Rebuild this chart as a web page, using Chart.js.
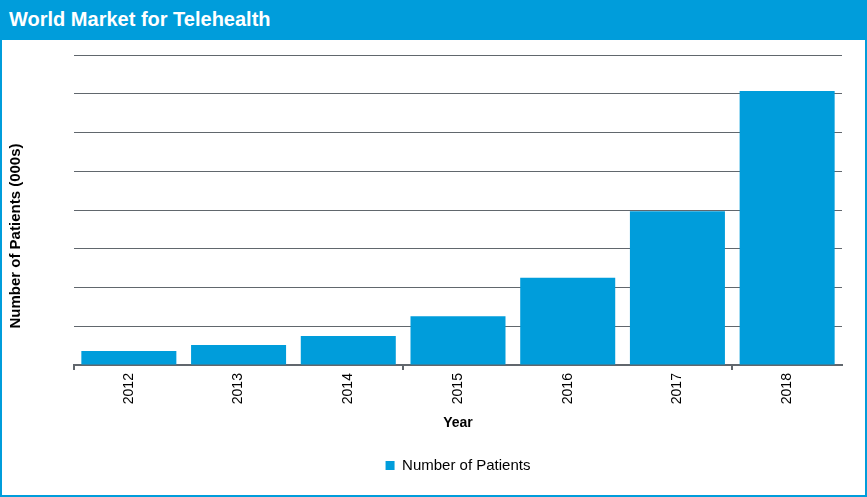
<!DOCTYPE html>
<html>
<head>
<meta charset="utf-8">
<script src="https://cdn.jsdelivr.net/npm/chart.js@4"></script>
<style>
  html, body { margin: 0; padding: 0; background: #fff; }
  #wrap { width: 867px; height: 497px; position: relative; overflow: hidden; }
  #titlebar { position: absolute; left: 0; top: 0; width: 867px; height: 40px; background: #009ddb;
    color: #fff; font: bold 20px "Liberation Sans", Arial, sans-serif; line-height: 39px; padding-left: 9px; box-sizing: border-box; }
  #box { position: absolute; left: 0; top: 40px; width: 867px; height: 457px; border: 2px solid #009ddb; border-top: none; box-sizing: border-box; }
  #cv { position: absolute; left: 2px; top: 40px; }
</style>
</head>
<body>
<div id="wrap">
  <div id="titlebar">World Market for Telehealth</div>
  <div id="box"></div>
  <canvas id="cv" width="863" height="455" style="width:863px;height:455px"></canvas>
</div>
<script>
const categories = ["2012", "2013", "2014", "2015", "2016", "2017", "2018"];
const patients = [36, 52, 75, 126, 225, 397, 707];
const yMax = 800;
const yStep = 100;
const yTitle = 'Number of Patients (000s)';

const barColor = '#009ddb';
const gridColor = '#61676d';
const fam = '"Liberation Sans", Arial, sans-serif';

const yTitlePlugin = {
  id: 'yTitlePlugin',
  afterDraw(chart) {
    const { ctx, chartArea } = chart;
    ctx.save();
    ctx.font = 'bold 15px ' + fam;
    ctx.fillStyle = '#000';
    ctx.textAlign = 'center';
    ctx.textBaseline = 'middle';
    ctx.translate(chartArea.left - 58, (chartArea.top + chartArea.bottom) / 2 + 26);
    ctx.rotate(-Math.PI / 2);
    ctx.fillText(yTitle, 0, 0);
    ctx.restore();
  }
};

new Chart(document.getElementById('cv'), {
  type: 'bar',
  data: {
    labels: categories,
    datasets: [{
      label: 'Number of Patients',
      data: patients,
      backgroundColor: barColor,
      borderWidth: 0,
      barPercentage: 0.866,
      categoryPercentage: 1.0
    }]
  },
  plugins: [yTitlePlugin],
  options: {
    responsive: false,
    animation: false,
    layout: { padding: { left: 72, right: 23, top: 15, bottom: 12 } },
    plugins: {
      tooltip: { enabled: false },
      legend: {
        position: 'bottom',
        labels: {
          boxWidth: 9, boxHeight: 9, padding: 4,
          color: '#000',
          font: { family: fam, size: 15 }
        }
      }
    },
    scales: {
      x: {
        grid: {
          offset: true,
          drawOnChartArea: false,
          drawTicks: true,
          tickLength: 5,
          lineWidth: 2,
          color: (ctx) => (ctx.index % 3 === 0 && ctx.index < categories.length) ? gridColor : 'rgba(0,0,0,0)'
        },
        border: { display: true, color: gridColor, width: 2 },
        ticks: {
          maxRotation: 90, minRotation: 90,
          padding: 3,
          color: '#000',
          font: { family: fam, size: 14 }
        },
        title: {
          display: true, text: 'Year', color: '#000',
          padding: { top: 8, bottom: 22 },
          font: { family: fam, size: 14, weight: 'bold' }
        }
      },
      y: {
        min: 0, max: yMax,
        ticks: { display: false, stepSize: yStep },
        grid: { color: gridColor, lineWidth: 1, drawTicks: false },
        border: { display: false },
        title: { display: false },
        afterFit: (scale) => { scale.width = 0; }
      }
    }
  }
});
</script>
</body>
</html>
